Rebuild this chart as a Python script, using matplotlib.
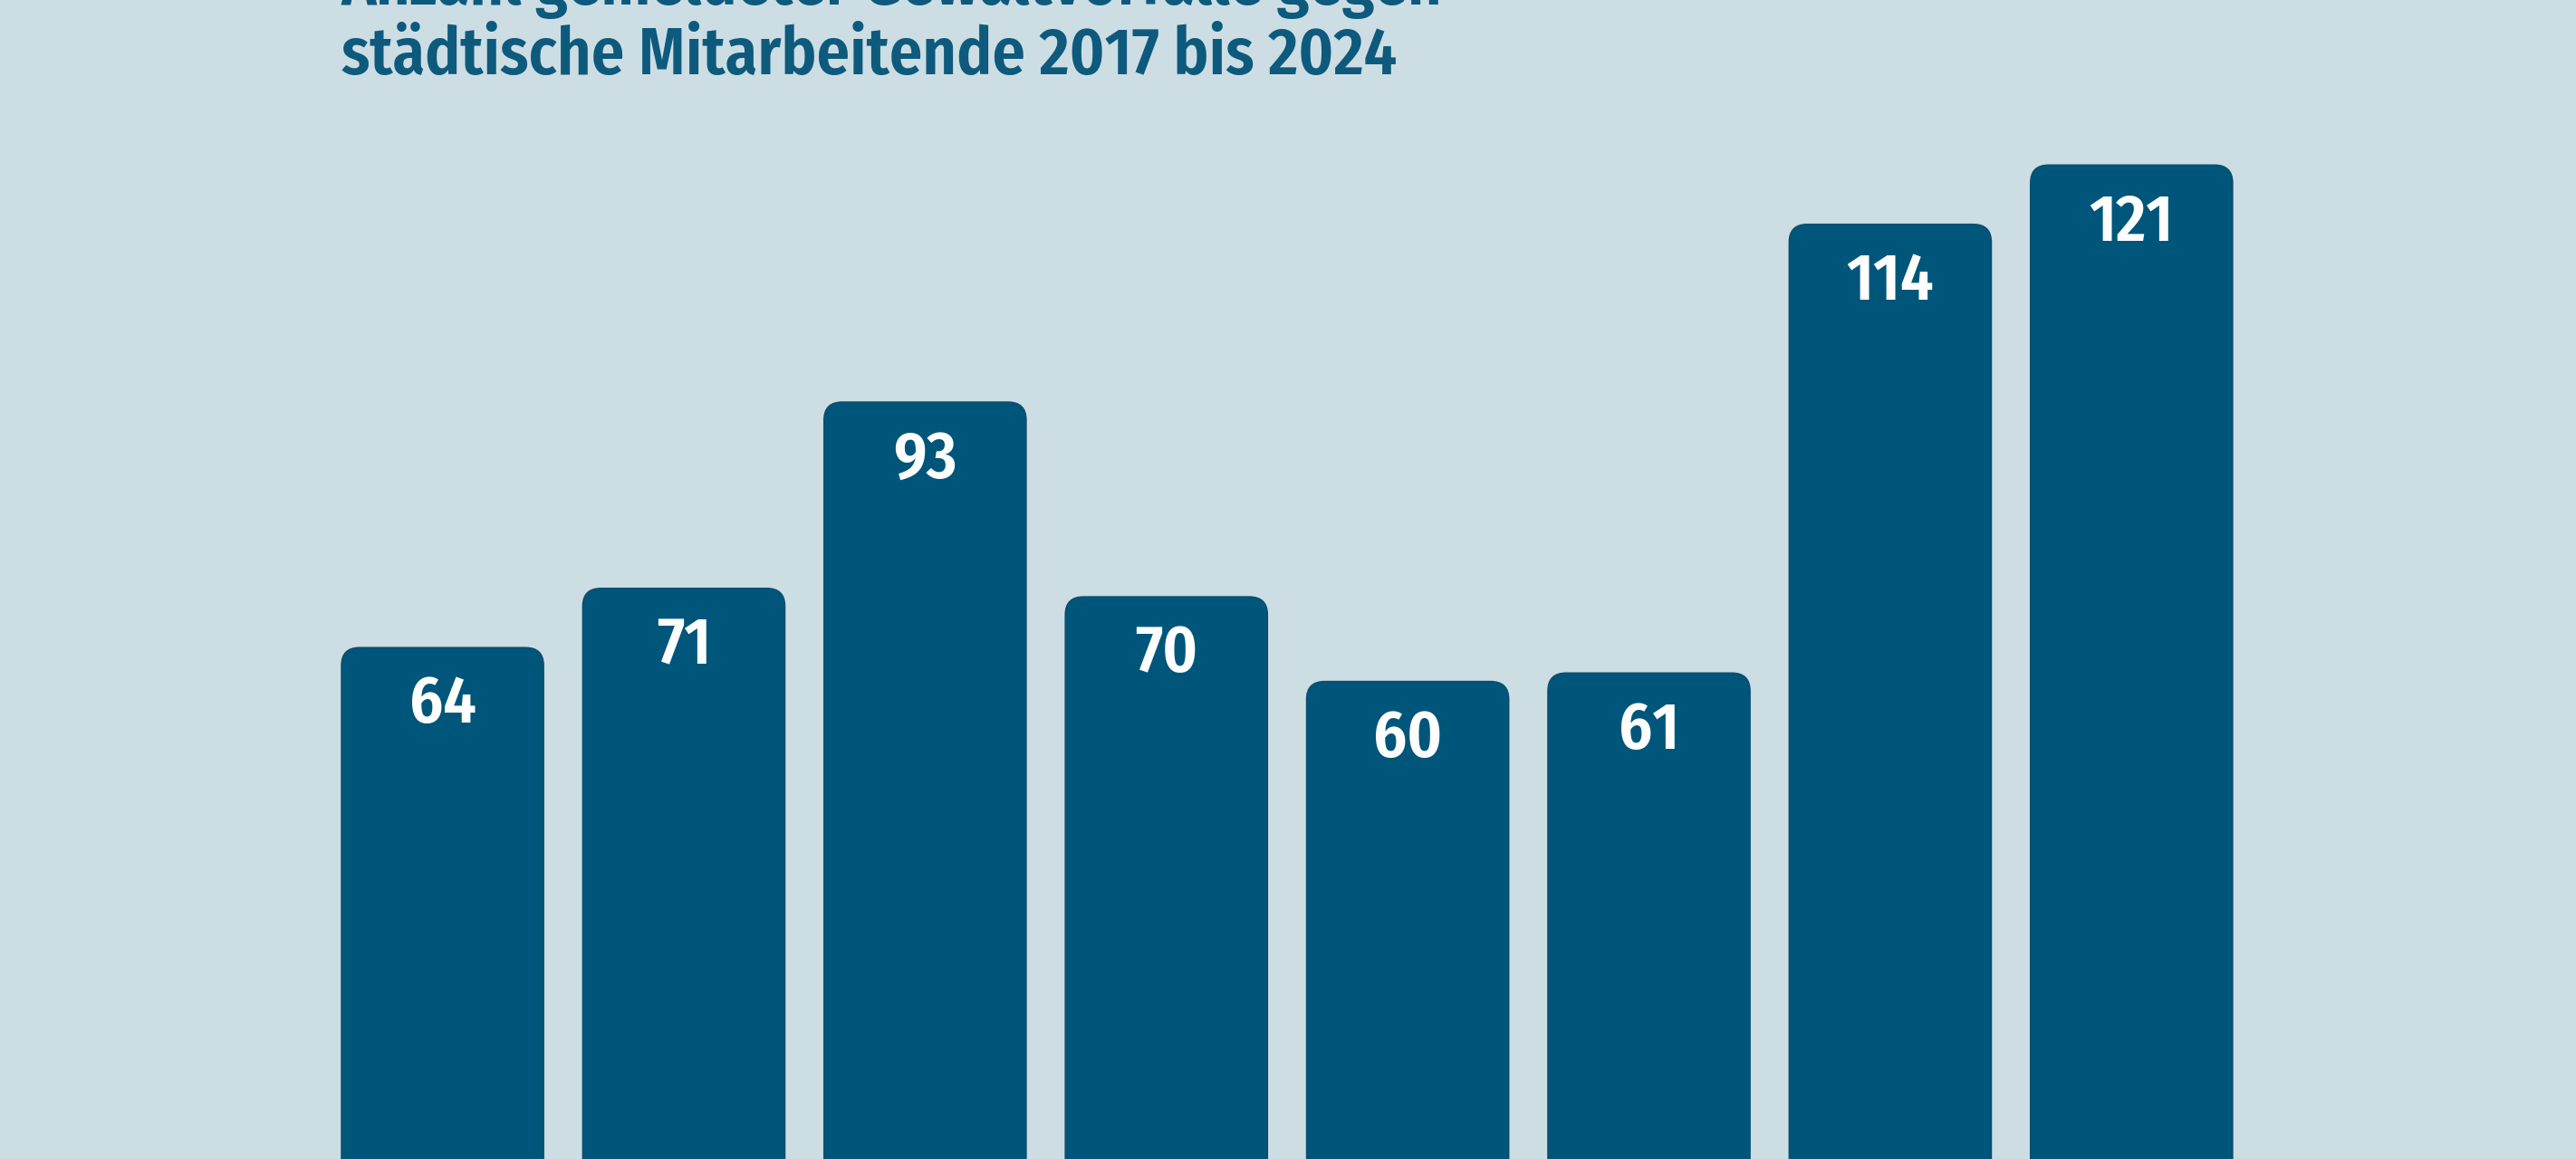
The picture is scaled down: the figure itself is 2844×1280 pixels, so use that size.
import matplotlib
matplotlib.use('Agg')
import matplotlib.pyplot as plt
from matplotlib.patches import FancyBboxPatch

# Gewaltvorfälle gegen städtische Mitarbeitende
jahre = ['2017', '2018', '2019', '2020', '2021', '2022', '2023', '2024']
vorfaelle = [64, 71, 93, 70, 60, 61, 114, 121]
titel_1 = 'Anzahl gemeldeter Gewaltvorfälle gegen'
titel_2 = 'städtische Mitarbeitende 2017 bis 2024'

bg = '#cddde4'
blau = '#00567a'
schrift = ['Fira Sans Condensed', 'DejaVu Sans']

fig = plt.figure(figsize=(28.44, 12.8), dpi=100)
fig.patch.set_facecolor(bg)
ax = fig.add_axes([0, 0, 1, 1])
ax.set_facecolor(bg)

x = list(range(len(jahre)))
bars = ax.bar(x, vorfaelle, width=0.837, color=blau)

# runde Ecken oben
rx = 0.075
ry = 2.1
for b in bars:
    p = FancyBboxPatch((b.get_x(), b.get_y()), b.get_width(), b.get_height(),
                       boxstyle='round,pad=0,rounding_size=%s' % rx,
                       mutation_aspect=ry / rx,
                       facecolor=blau, edgecolor='#0b4f6c', linewidth=1.2)
    ax.add_patch(p)
    b.remove()

for xi, v in zip(x, vorfaelle):
    ax.text(xi, v - 8.9, str(v), ha='center', va='baseline', color='white',
            fontsize=52, fontweight=600, family=schrift)

ax.set_xlim(-1.834, 8.842)
ax.set_ylim(3.6, 140.5)
ax.axis('off')

fig.text(377 / 2844, 1 - 5 / 1280, titel_1, ha='left', va='baseline',
         color='#0d5a7d', fontsize=52, fontweight=600, family=schrift)
fig.text(377 / 2844, 1 - 82 / 1280, titel_2, ha='left', va='baseline',
         color='#0d5a7d', fontsize=52, fontweight=600, family=schrift)

fig.savefig('out.png', dpi=100, facecolor=bg)
